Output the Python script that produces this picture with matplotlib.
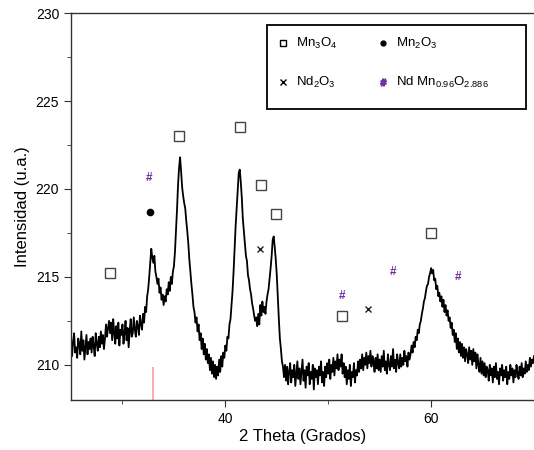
"""XRD pattern with phase markers (Mn3O4, Mn2O3, Nd2O3, NdMn0.96O2.886)."""

import matplotlib

matplotlib.use("Agg")
import matplotlib.pyplot as plt
import numpy as np
from matplotlib.lines import Line2D
from matplotlib.patches import Rectangle

plt.rcParams["font.family"] = ["Liberation Sans", "DejaVu Sans"]
plt.rcParams["mathtext.default"] = "regular"

# --------------------------------------------------------------------------------------
# Data (2 theta from 25 to 70, step 0.1; one row per degree)
# --------------------------------------------------------------------------------------
THETA_START, THETA_STOP = 25.0, 70.0

intensity = [
    211.6, 210.5, 211.3, 211.8, 210.7, 211.0, 210.4, 211.5, 211.2, 210.6,  # 25
    211.9, 210.8, 211.4, 210.3, 211.0, 211.7, 210.6, 211.3, 210.9, 211.5,  # 26
    210.7, 211.6, 211.1, 210.5, 211.8, 211.2, 210.8, 211.6, 211.0, 211.9,  # 27
    211.2, 211.7, 210.9, 211.5, 212.3, 211.6, 212.1, 212.5, 211.8, 212.4,  # 28
    211.4, 212.6, 211.8, 211.2, 212.2, 211.5, 212.4, 211.1, 212.0, 211.7,  # 29
    212.3, 211.2, 211.8, 212.5, 211.4, 212.1, 211.0, 211.9, 212.6, 211.6,  # 30
    211.8, 212.7, 212.0, 211.6, 212.5, 212.2, 211.7, 212.8, 212.3, 212.0,  # 31
    212.9, 212.4, 213.3, 213.0, 213.9, 214.3, 215.0, 215.8, 216.6, 216.1,  # 32
    215.8, 216.2, 215.3, 215.0, 214.6, 214.9, 214.1, 214.4, 213.7, 214.0,  # 33
    213.4, 213.9, 213.6, 214.3, 214.0, 214.7, 214.2, 215.0, 214.6, 215.3,  # 34
    215.6, 216.4, 217.6, 218.8, 220.2, 221.2, 221.8, 221.0, 220.1, 219.6,  # 35
    219.2, 218.9, 218.2, 217.6, 216.9, 216.0, 215.3, 214.6, 214.0, 213.3,  # 36
    213.0, 212.4, 212.7, 211.9, 212.3, 211.4, 211.8, 210.9, 211.5, 210.6,  # 37
    211.2, 210.3, 210.9, 210.1, 210.6, 209.7, 210.4, 209.5, 210.2, 209.3,  # 38
    210.0, 209.2, 209.9, 209.4, 210.3, 209.6, 210.5, 209.9, 210.7, 210.4,  # 39
    211.1, 210.8, 211.6, 211.5, 212.3, 212.6, 213.4, 214.2, 215.3, 216.6,  # 40
    217.9, 218.9, 220.0, 220.9, 221.1, 220.4, 219.5, 218.3, 217.6, 216.9,  # 41
    216.2, 215.9, 215.1, 214.8, 214.3, 214.0, 213.5, 213.2, 212.8, 212.5,  # 42
    212.7, 212.2, 212.9, 212.3, 213.4, 212.8, 213.6, 213.0, 213.3, 212.9,  # 43
    213.6, 214.0, 214.3, 214.9, 215.5, 216.2, 217.1, 217.3, 216.7, 216.0,  # 44
    215.1, 213.8, 212.6, 211.5, 210.9, 210.2, 209.9, 209.3, 210.0, 209.1,  # 45
    209.9, 208.9, 209.6, 210.1, 209.0, 209.7, 209.3, 210.0, 208.8, 209.5,  # 46
    210.2, 209.2, 209.8, 208.9, 209.6, 210.3, 209.1, 209.7, 208.7, 209.9,  # 47
    209.4, 210.1, 208.9, 209.6, 209.2, 210.0, 208.6, 209.8, 209.3, 209.7,  # 48
    208.9, 209.9, 209.4, 210.2, 209.0, 209.6, 208.8, 209.9, 209.3, 210.1,  # 49
    209.5, 210.3, 209.2, 210.0, 209.6, 210.4, 209.4, 210.2, 209.8, 210.6,  # 50
    209.7, 210.3, 209.9, 210.6, 209.5, 210.1, 209.3, 209.9, 208.9, 209.7,  # 51
    209.2, 210.0, 208.8, 209.6, 209.3, 210.1, 209.0, 209.7, 209.4, 210.2,  # 52
    209.6, 210.3, 209.8, 210.6, 209.7, 210.4, 210.0, 210.7, 209.8, 210.5,  # 53
    210.1, 210.8, 209.9, 210.5, 210.2, 209.6, 210.4, 209.8, 210.6, 209.7,  # 54
    210.3, 209.6, 210.5, 209.9, 210.8, 209.7, 210.2, 209.5, 210.6, 210.0,  # 55
    209.7, 210.5, 209.9, 210.9, 209.8, 210.3, 209.6, 210.6, 210.1, 209.8,  # 56
    210.6, 209.9, 210.4, 210.0, 210.8, 210.2, 210.5, 209.9, 210.7, 210.3,  # 57
    210.6, 211.1, 210.7, 211.3, 211.0, 211.6, 211.4, 212.0, 211.8, 212.3,  # 58
    212.5, 212.9, 213.2, 213.6, 213.8, 214.2, 214.5, 214.6, 215.0, 215.2,  # 59
    215.5, 215.2, 215.4, 214.8, 214.9, 214.3, 214.5, 213.9, 214.1, 213.6,  # 60
    213.9, 213.3, 213.7, 213.0, 213.4, 212.8, 213.1, 212.5, 212.7, 212.1,  # 61
    212.4, 211.7, 212.0, 211.3, 211.8, 210.9, 211.5, 210.7, 211.3, 210.5,  # 62
    211.2, 210.4, 211.0, 210.2, 210.9, 210.6, 210.1, 211.0, 210.3, 210.8,  # 63
    210.0, 210.9, 210.2, 210.7, 209.8, 210.6, 210.0, 209.6, 210.4, 209.5,  # 64
    210.2, 209.4, 210.1, 209.3, 209.9, 209.7, 209.1, 210.0, 209.4, 209.8,  # 65
    209.0, 209.9, 209.3, 210.1, 209.2, 209.6, 208.9, 209.8, 209.4, 210.0,  # 66
    209.1, 209.7, 209.3, 209.9, 208.9, 209.6, 209.2, 210.0, 209.4, 209.8,  # 67
    209.0, 209.7, 209.3, 210.0, 209.5, 209.2, 209.9, 209.4, 210.1, 209.3,  # 68
    209.8, 209.5, 210.2, 209.6, 210.0, 209.7, 210.4, 209.9, 210.3, 210.1,  # 69
    210.5,                                                                 # 70
]

# phase marker positions (2 theta, intensity) as placed in the figure
mn3o4_x = [28.8, 35.5, 41.4, 43.5, 44.9, 51.3, 60.0]
mn3o4_y = [215.2, 223.0, 223.5, 220.2, 218.6, 212.8, 217.5]
mn2o3_x = [32.7]
mn2o3_y = [218.7]
nd2o3_x = [43.4, 53.9]
nd2o3_y = [216.6, 213.2]
ndmno_x = [32.6, 51.3, 56.3, 62.6]
ndmno_y = [220.6, 213.9, 215.3, 215.0]

# reference stick (red) near 33 degrees
ref_x = [33.0]
ref_top = 209.9

PURPLE = "#7030a0"


def main():
    two_theta = np.linspace(THETA_START, THETA_STOP, len(intensity))

    fig = plt.figure(figsize=(5.34, 4.5), dpi=100)
    ax = fig.add_axes([0.133, 0.111, 0.867, 0.86])

    ax.plot(two_theta, intensity, color="black", lw=1.3)
    ax.vlines(ref_x, 208, ref_top, color="#f4a0a0", lw=1.2)

    ax.plot(mn3o4_x, mn3o4_y, ls="none", marker="s", ms=6.5, mfc="white",
            mec="#444444", mew=1.0)
    ax.plot(mn2o3_x, mn2o3_y, ls="none", marker="o", ms=4.5, color="black")
    ax.plot(nd2o3_x, nd2o3_y, ls="none", marker="x", ms=5, color="#222222",
            mew=1.0)
    for x, y in zip(ndmno_x, ndmno_y):
        ax.text(x, y, "#", color=PURPLE, fontsize=8.5, fontweight="bold",
                ha="center", va="center")

    # legend: frame drawn separately so it can be wider than its content
    ax.add_patch(Rectangle((0.423, 0.752), 0.56, 0.217, transform=ax.transAxes,
                           fill=False, edgecolor="black", lw=1.3, zorder=4))
    handles = [
        Line2D([], [], ls="none", marker="s", ms=5, mfc="white", mec="black"),
        Line2D([], [], ls="none", marker="x", ms=4.5, color="black"),
        Line2D([], [], ls="none", marker="o", ms=3.5, color="black"),
        Line2D([], [], ls="none", marker="$\\#$", ms=5, color=PURPLE),
    ]
    labels = [
        r"Mn$_3$O$_4$",
        r"Nd$_2$O$_3$",
        r"Mn$_2$O$_3$",
        r"Nd Mn$_{0.96}$O$_{2.886}$",
    ]
    ax.legend(handles, labels, ncol=2, loc="upper left",
              bbox_to_anchor=(0.447, 0.94), borderaxespad=0, borderpad=0,
              fontsize=9.5, frameon=False, labelspacing=1.8,
              handlelength=0.8, handletextpad=0.6, columnspacing=3.0)

    ax.set_xlim(THETA_START, THETA_STOP)
    ax.set_ylim(208, 230)
    ax.set_xticks([40, 60])
    ax.set_xticks([30, 50, 70], minor=True)
    ax.set_yticks([210, 215, 220, 225, 230])
    ax.set_yticks([212.5, 217.5, 222.5, 227.5], minor=True)
    ax.tick_params(which="both", direction="out", labelsize=10,
                   color="#333333")
    ax.tick_params(which="major", length=5)
    ax.tick_params(which="minor", length=3)

    ax.spines["right"].set_visible(False)
    for side in ("left", "bottom", "top"):
        ax.spines[side].set_color("#333333")
        ax.spines[side].set_linewidth(1.0)

    ax.set_xlabel("2 Theta (Grados)", fontsize=12, labelpad=2)
    ax.set_ylabel("Intensidad (u.a.)", fontsize=12, labelpad=4)

    fig.savefig("out.png", dpi=100)
    plt.close(fig)


if __name__ == "__main__":
    main()
